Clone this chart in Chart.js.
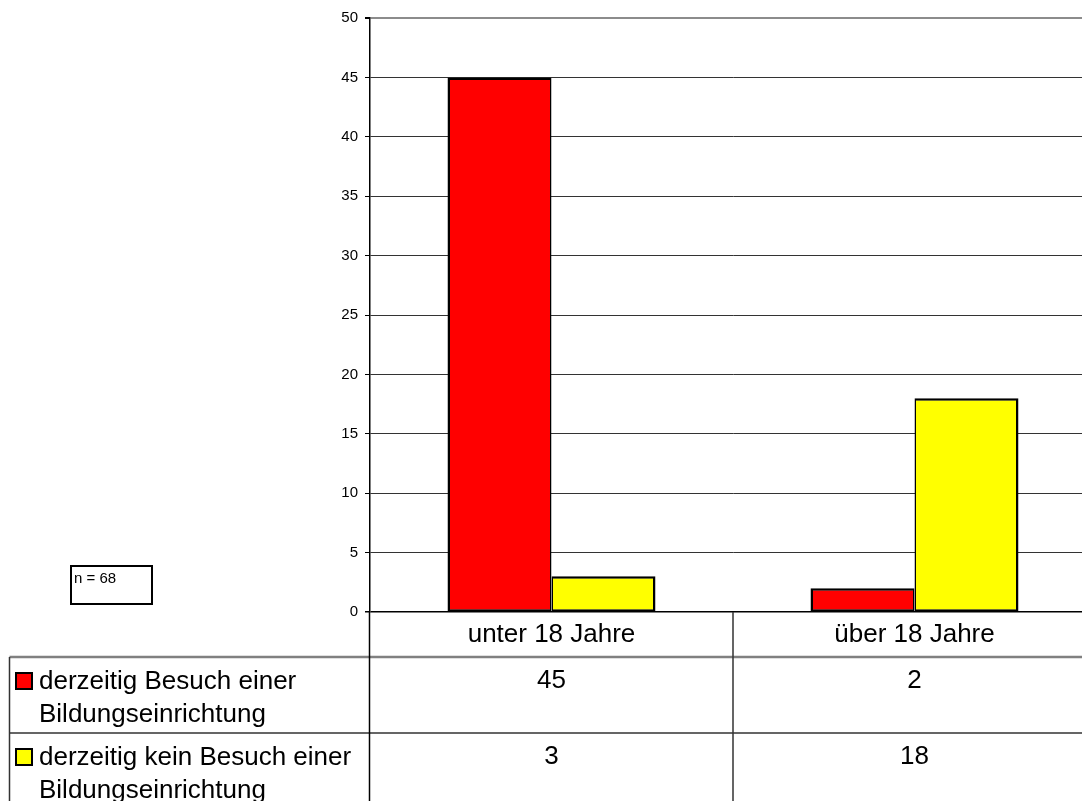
<!DOCTYPE html>
<html>
<head>
<meta charset="utf-8">
<script src="https://cdn.jsdelivr.net/npm/chart.js@4.4.0/dist/chart.umd.min.js"></script>
<style>
  html, body { margin: 0; padding: 0; background: #fff; overflow: hidden; width: 1082px; height: 801px; }
  #wrap { position: relative; width: 1082px; height: 801px; overflow: hidden; }
  canvas { display: block; }
</style>
</head>
<body>
<div id="wrap"><canvas id="chart" width="1100" height="801"></canvas></div>
<script>
// Age groups and counts of respondents by current attendance of an educational institution
const categories = ['unter 18 Jahre', 'über 18 Jahre'];
const seriesNames = [
  ['derzeitig Besuch einer', 'Bildungseinrichtung'],
  ['derzeitig kein Besuch einer', 'Bildungseinrichtung']
];
const besuchValues = [45, 2];
const keinBesuchValues = [3, 18];
const seriesColors = ['#ff0000', '#ffff00'];
const yTicks = [0, 5, 10, 15, 20, 25, 30, 35, 40, 45, 50];
const sampleNote = 'n = 68';

const FONT = '"Liberation Sans", Arial, Helvetica, sans-serif';

// Data table under the plot: category header row, one row per series with legend key
const dataTablePlugin = {
  id: 'dataTable',
  afterDraw(chart) {
    const { ctx, chartArea: area, scales: { x } } = chart;
    const series = chart.data.datasets;
    const colWidth = x.getPixelForValue(1) - x.getPixelForValue(0);
    const colSplit = x.getPixelForValue(0) + colWidth / 2;
    const tableLeft = 9.5;
    const headTop = 657;
    const rowTop2 = 733;
    const rowH = 76;
    const right = chart.width;

    ctx.save();
    // grid of the table
    ctx.strokeStyle = '#808080';
    ctx.lineWidth = 2.5;
    ctx.beginPath();
    ctx.moveTo(tableLeft, headTop); ctx.lineTo(right, headTop);
    ctx.stroke();

    ctx.strokeStyle = '#333333';
    ctx.lineWidth = 1.5;
    ctx.beginPath();
    ctx.moveTo(tableLeft, rowTop2); ctx.lineTo(right, rowTop2);
    ctx.moveTo(tableLeft, headTop); ctx.lineTo(tableLeft, chart.height);
    ctx.moveTo(colSplit, area.bottom); ctx.lineTo(colSplit, chart.height);
    ctx.stroke();

    ctx.strokeStyle = '#000000';
    ctx.lineWidth = 1.5;
    ctx.beginPath();
    ctx.moveTo(area.left - 0.5, area.bottom); ctx.lineTo(area.left - 0.5, chart.height);
    ctx.stroke();

    // category header
    ctx.fillStyle = '#000';
    ctx.font = '26px ' + FONT;
    ctx.textAlign = 'center';
    ctx.textBaseline = 'alphabetic';
    chart.data.labels.forEach((lab, i) => {
      ctx.fillText(lab, x.getPixelForValue(i), 642);
    });

    // series rows
    series.forEach((ds, r) => {
      const top = headTop + r * rowH;
      const base = top + 32;
      // legend key
      ctx.fillStyle = ds.backgroundColor;
      ctx.fillRect(16, top + 16, 16, 16);
      ctx.strokeStyle = '#000';
      ctx.lineWidth = 2;
      ctx.strokeRect(16, top + 16, 16, 16);
      // series name
      ctx.fillStyle = '#000';
      ctx.textAlign = 'left';
      ds.nameLines.forEach((line, k) => {
        ctx.fillText(line, 39, base + k * 33);
      });
      // values
      ctx.textAlign = 'center';
      ds.data.forEach((v, i) => {
        ctx.fillText(String(v), x.getPixelForValue(i), base - 1);
      });
    });

    // sample size note
    ctx.strokeStyle = '#000';
    ctx.lineWidth = 2;
    ctx.strokeRect(71, 566, 81, 38);
    ctx.font = '15px ' + FONT;
    ctx.textAlign = 'left';
    ctx.fillText(sampleNote, 74, 583);
    ctx.restore();
  }
};

new Chart(document.getElementById('chart'), {
  type: 'bar',
  data: {
    labels: categories,
    datasets: [
      {
        label: seriesNames[0].join(' '),
        nameLines: seriesNames[0],
        data: besuchValues,
        backgroundColor: seriesColors[0],
        borderColor: '#000',
        borderWidth: { top: 2.5, left: 2.5, right: 1.5, bottom: 2 },
        borderSkipped: false
      },
      {
        label: seriesNames[1].join(' '),
        nameLines: seriesNames[1],
        data: keinBesuchValues,
        backgroundColor: seriesColors[1],
        borderColor: '#000',
        borderWidth: { top: 2.5, left: 1.5, right: 2.5, bottom: 2 },
        borderSkipped: false
      }
    ]
  },
  options: {
    responsive: false,
    animation: false,
    devicePixelRatio: 1,
    layout: { padding: { top: 18, bottom: 189, left: 0, right: 4 } },
    datasets: { bar: { categoryPercentage: 0.573, barPercentage: 1.0 } },
    plugins: { legend: { display: false }, tooltip: { enabled: false } },
    scales: {
      x: { display: false, offset: true, grid: { display: false } },
      y: {
        min: 0,
        max: 50,
        afterFit(scale) { scale.width = 370; },
        afterBuildTicks(scale) { scale.ticks = yTicks.map(v => ({ value: v })); },
        border: { display: true, color: '#000', width: 1.5 },
        grid: {
          color: ctx => ctx.tick && ctx.tick.value === 50 ? '#8c8c8c' : (ctx.tick && ctx.tick.value === 0 ? '#000' : '#333'),
          lineWidth: ctx => ctx.tick && ctx.tick.value === 50 ? 2 : (ctx.tick && ctx.tick.value === 0 ? 1.5 : 1),
          tickColor: '#000',
          tickLength: 5,
          drawTicks: true
        },
        ticks: {
          color: '#000',
          padding: 7,
          font: { family: FONT, size: 15 },
          callback: v => String(v)
        }
      }
    }
  },
  plugins: [dataTablePlugin]
});
</script>
</body>
</html>
